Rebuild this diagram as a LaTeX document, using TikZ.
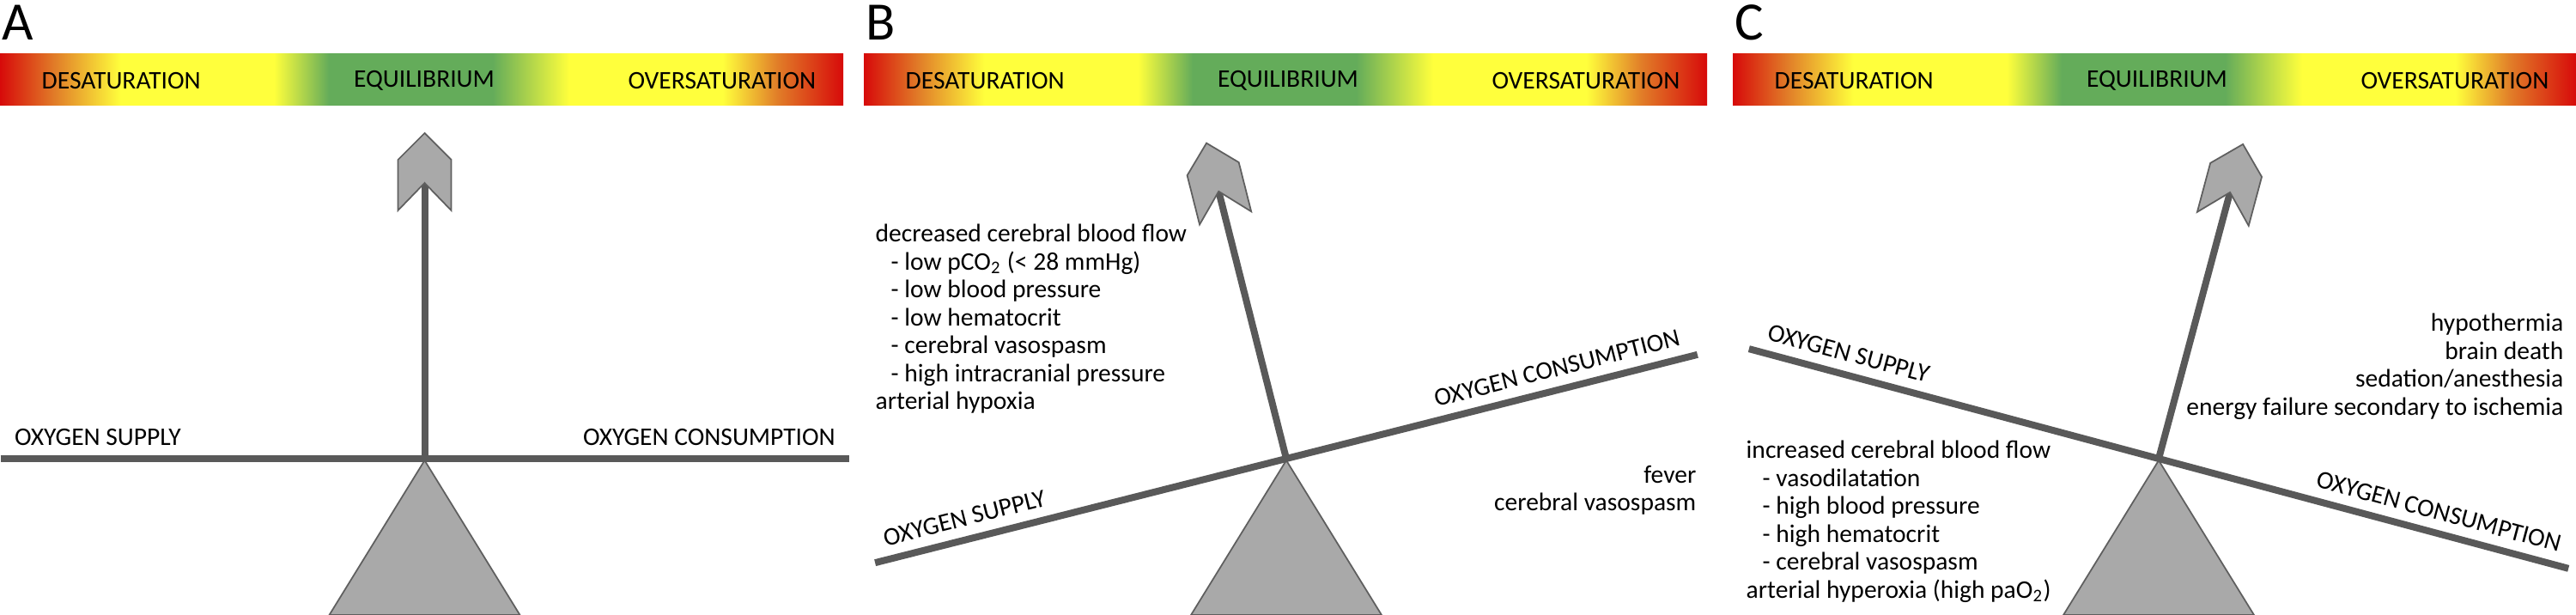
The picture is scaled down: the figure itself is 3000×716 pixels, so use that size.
\documentclass[tikz,border=0pt]{standalone}
\usepackage{fontspec}
\setmainfont{Carlito}
\definecolor{bred}{RGB}{215,10,10}
\definecolor{borange}{RGB}{225,125,40}
\definecolor{byellow}{RGB}{255,255,60}
\definecolor{bgreen}{RGB}{100,172,90}
\definecolor{beamgray}{RGB}{89,89,89}
\definecolor{fillgray}{RGB}{169,169,169}
\definecolor{edgegray}{RGB}{95,95,95}
\pgfdeclarehorizontalshading{barshade}{100bp}{color(0bp)=(bred); color(25bp)=(bred); color(28.25bp)=(borange); color(32.15bp)=(byellow); color(41.25bp)=(byellow); color(44.5bp)=(bgreen); color(54.2bp)=(bgreen); color(58.75bp)=(byellow); color(67.85bp)=(byellow); color(71.1bp)=(borange); color(75bp)=(bred); color(100bp)=(bred)}
\tikzset{
  beam/.style={draw=beamgray, line width=0.08cm},
  headshape/.style={fill=fillgray, draw=edgegray, line width=0.5pt, line join=miter},
  tri/.style={fill=fillgray, draw=edgegray, line width=0.5pt},
  lbl/.style={inner sep=0pt, font=\fontsize{8.4}{10}\selectfont},
  big/.style={inner sep=0pt, font=\fontsize{17.9}{20}\selectfont},
}
\newcommand\balpanel[3]{%
  \draw[tri] (#2,536) -- (#2+111,716) -- (#2-111,716) -- cycle;
  \begin{scope}[shift={(#2,534)}, rotate=#3]
    \coordinate (#1L) at (-494,0);
    \coordinate (#1R) at (494,0);
    \coordinate (#1P) at (0,0);
    \coordinate (#1N) at (0,-321);
    \coordinate (#1T) at (0,-379);
    \draw[beam] (#1L) -- (#1R);
    \draw[beam] (#1P) -- (#1N);
    \draw[headshape] (#1T) -- (31,-348) -- (31,-289) -- (#1N) -- (-31,-289) -- (-31,-348) -- cycle;
    \node[lbl, anchor=west, rotate=#3] (#1sup) at (-478,-25) {OXYGEN SUPPLY};
    \node[lbl, anchor=east, rotate=#3] (#1con) at (479,-25) {OXYGEN CONSUMPTION};
  \end{scope}}
\newcommand\barpanel[3]{%
  \shade[shading=barshade] (#2,63) rectangle (#2+982,123);
  \node[big, anchor=base west] (#1let) at (#2+2,47) {#3};
  \node[lbl, anchor=west] (#1des) at (#2+48,94) {DESATURATION};
  \node[lbl, anchor=center] (#1equ) at (#2+494,94) {EQUILIBRIUM};
  \node[lbl, anchor=east] (#1ove) at (#2+951,94) {OVERSATURATION};}
\begin{document}
\begin{tikzpicture}[x=0.01cm, y=-0.01cm]
\useasboundingbox (0,0) rectangle (3000,716);
% Panel A
\barpanel{a}{0}{A}
\balpanel{a}{494.5}{0}
% Panel B
\barpanel{b}{1006}{B}
\balpanel{b}{1498}{14.2}
\node[lbl, anchor=base west] (b1) at (1019,282) {decreased cerebral blood flow};
\node[lbl, anchor=base west] (b2) at (1037,314.5) {- low pCO\textsubscript{2} (< 28 mmHg)};
\node[lbl, anchor=base west] (b3) at (1037,347) {- low blood pressure};
\node[lbl, anchor=base west] (b4) at (1037,379.5) {- low hematocrit};
\node[lbl, anchor=base west] (b5) at (1037,412) {- cerebral vasospasm};
\node[lbl, anchor=base west] (b6) at (1037,444.5) {- high intracranial pressure};
\node[lbl, anchor=base west] (b7) at (1019,477) {arterial hypoxia};
\node[lbl, anchor=base east] (b8) at (1976,563) {fever};
\node[lbl, anchor=base east] (b9) at (1976,595) {cerebral vasospasm};
% Panel C
\barpanel{c}{2018}{C}
\balpanel{c}{2514}{-15}
\node[lbl, anchor=base east] (c1) at (2986,386) {hypothermia};
\node[lbl, anchor=base east] (c2) at (2986,418.5) {brain death};
\node[lbl, anchor=base east] (c3) at (2986,451) {sedation/anesthesia};
\node[lbl, anchor=base east] (c4) at (2986,483.5) {energy failure secondary to ischemia};
\node[lbl, anchor=base west] (c5) at (2033,534) {increased cerebral blood flow};
\node[lbl, anchor=base west] (c6) at (2052,566.5) {- vasodilatation};
\node[lbl, anchor=base west] (c7) at (2052,599) {- high blood pressure};
\node[lbl, anchor=base west] (c8) at (2052,631.5) {- high hematocrit};
\node[lbl, anchor=base west] (c9) at (2052,664) {- cerebral vasospasm};
\node[lbl, anchor=base west] (c10) at (2033,696.5) {arterial hyperoxia (high paO\textsubscript{2})};
\end{tikzpicture}
\end{document}
